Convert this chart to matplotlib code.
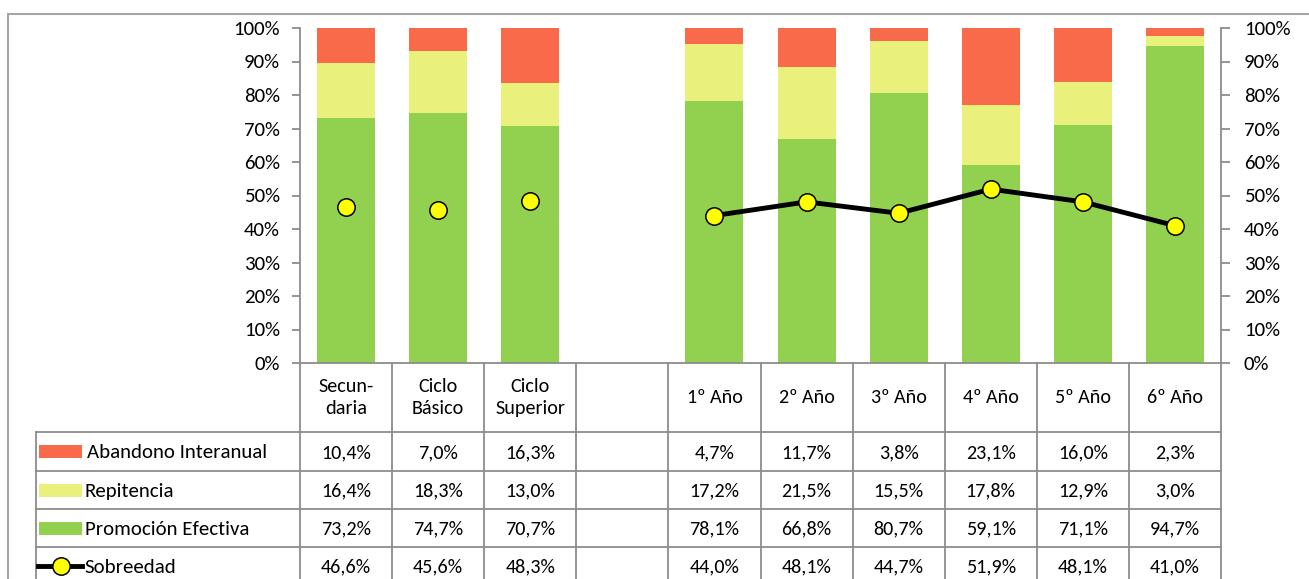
import matplotlib
matplotlib.use("Agg")
import matplotlib.pyplot as plt
from matplotlib import font_manager
from matplotlib.lines import Line2D
from matplotlib.patches import Rectangle
from matplotlib.transforms import blended_transform_factory
from matplotlib.ticker import PercentFormatter

# Calibri-like face if one is available, else Lato
_installed = {f.name for f in font_manager.fontManager.ttflist}
_face = next((f for f in ["Carlito", "Calibri", "Lato"] if f in _installed), "DejaVu Sans")
plt.rcParams['font.family'] = [_face, 'DejaVu Sans']

# ---- data -------------------------------------------------------------
categories = ["Secun-\ndaria", "Ciclo\nBásico", "Ciclo\nSuperior", "",
              "1º Año", "2º Año", "3º Año", "4º Año", "5º Año", "6º Año"]
abandono = [10.4, 7.0, 16.3, None, 4.7, 11.7, 3.8, 23.1, 16.0, 2.3]
repitencia = [16.4, 18.3, 13.0, None, 17.2, 21.5, 15.5, 17.8, 12.9, 3.0]
promocion = [73.2, 74.7, 70.7, None, 78.1, 66.8, 80.7, 59.1, 71.1, 94.7]
sobreedad = [46.6, 45.6, 48.3, None, 44.0, 48.1, 44.7, 51.9, 48.1, 41.0]
series_names = ["Abandono Interanual", "Repitencia", "Promoción Efectiva", "Sobreedad"]

C_RED = "#F96A4A"
C_YEL = "#E9F17C"
C_GRN = "#92D050"
C_GRID = "#8C8C8C"
FS_TICK = 15
FS_NAME = 15
FS_HEAD = 14.5
FS_NUM = 14.5

W, H = 1309, 579
fig = plt.figure(figsize=(W / 100, H / 100), dpi=100)


def fx(px):
    return px / W


def fy(py):
    return 1 - py / H


ax_left, ax_right, ax_top, ax_bot = 300, 1221, 28, 363
ax = fig.add_axes([fx(ax_left), fy(ax_bot), fx(ax_right - ax_left), (ax_bot - ax_top) / H])

n = len(categories)
xs = [i + 0.5 for i in range(n)]
idx = [i for i in range(n) if promocion[i] is not None]
bw = 0.63

p = [promocion[i] for i in idx]
r = [repitencia[i] for i in idx]
a = [abandono[i] for i in idx]
bx = [xs[i] for i in idx]
ax.bar(bx, p, width=bw, color=C_GRN, zorder=2)
ax.bar(bx, r, width=bw, bottom=p, color=C_YEL, zorder=2)
ax.bar(bx, a, width=bw, bottom=[pp + rr for pp, rr in zip(p, r)], color=C_RED, zorder=2)

# Sobreedad: the three level totals as loose markers, the six years joined
marker_kw = dict(marker="o", markersize=12.5, markerfacecolor="#FFFF00",
                 markeredgecolor="black", markeredgewidth=1.1)
grp1 = [i for i in idx if i < 3]
grp2 = [i for i in idx if i > 3]
ax.plot([xs[i] for i in grp1], [sobreedad[i] for i in grp1], linestyle="none",
        zorder=4, **marker_kw)
ax.plot([xs[i] for i in grp2], [sobreedad[i] for i in grp2], color="black",
        linewidth=3.5, zorder=4, **marker_kw)

ax.set_xlim(0, n)
ax.set_ylim(0, 100)
ax.set_yticks(range(0, 101, 10))
ax.yaxis.set_major_formatter(PercentFormatter(decimals=0))
ax.set_xticks([])
for s in ["top", "right"]:
    ax.spines[s].set_visible(False)
for s in ["left", "bottom"]:
    ax.spines[s].set_color(C_GRID)
    ax.spines[s].set_linewidth(1.3)
ax.tick_params(axis="y", direction="out", length=5.5, width=1.3, color=C_GRID,
               labelsize=FS_TICK, pad=9)

ax2 = ax.twinx()
ax2.set_ylim(0, 100)
ax2.set_yticks(range(0, 101, 10))
ax2.yaxis.set_major_formatter(PercentFormatter(decimals=0))
for s in ["top", "left", "bottom"]:
    ax2.spines[s].set_visible(False)
ax2.spines["right"].set_color(C_GRID)
ax2.spines["right"].set_linewidth(1.3)
ax2.tick_params(axis="y", direction="out", length=6.5, width=1.3, color=C_GRID,
                labelsize=FS_TICK, pad=10)

# ---- outer frame --------------------------------------------------------
fig.add_artist(Rectangle((fx(8), fy(700)), fx(1400), fy(14) - fy(700),
                         transform=fig.transFigure, fill=False,
                         edgecolor="#A6A6A6", linewidth=1.5))

# ---- data table ---------------------------------------------------------
tr = blended_transform_factory(ax.transData, fig.transFigure)
tf = fig.transFigure
row_edges = [363, 432, 471, 509, 547, 585]
leg_left = 36


def hline(ypx, x0_px):
    fig.add_artist(Line2D([fx(x0_px), fx(ax_right)], [fy(ypx), fy(ypx)],
                          transform=tf, color=C_GRID, linewidth=1.3))


for ypx in row_edges[1:-1]:
    hline(ypx, leg_left)
# column borders
for i in range(n + 1):
    fig.add_artist(Line2D([i, i], [fy(row_edges[0]), fy(row_edges[-1])],
                          transform=tr, color=C_GRID, linewidth=1.3))
fig.add_artist(Line2D([fx(leg_left), fx(leg_left)], [fy(row_edges[1]), fy(row_edges[-1])],
                      transform=tf, color=C_GRID, linewidth=1.3))

# header row
hy = (row_edges[0] + row_edges[1]) / 2
for x, lab in zip(xs, categories):
    fig.text(x, fy(hy), lab, transform=tr, ha="center", va="center",
             fontsize=FS_HEAD, linespacing=1.35)


def fmt(v):
    return "" if v is None else f"{v:.1f}%".replace(".", ",")


rows = [abandono, repitencia, promocion, sobreedad]
for k, vals in enumerate(rows):
    cy = (row_edges[k + 1] + row_edges[k + 2]) / 2
    for x, v in zip(xs, vals):
        fig.text(x, fy(cy) - 0.002, fmt(v), transform=tr, ha="center", va="center",
                 fontsize=FS_NUM)

# legend keys in the first column
sw_x0, sw_x1 = 39, 82
for k, col in enumerate([C_RED, C_YEL, C_GRN]):
    cy = (row_edges[k + 1] + row_edges[k + 2]) / 2
    fig.add_artist(Rectangle((fx(sw_x0), fy(cy + 6.5)), fx(sw_x1 - sw_x0), 13 / H,
                             transform=tf, facecolor=col, edgecolor="none"))
cy = (row_edges[4] + row_edges[5]) / 2
fig.add_artist(Line2D([fx(38), fx(82)], [fy(cy), fy(cy)], transform=tf,
                      color="black", linewidth=3.5))
fig.add_artist(Line2D([fx(60.5)], [fy(cy)], transform=tf, **marker_kw))
text_x = [87, 85, 85, 84]
for k, name in enumerate(series_names):
    cy = (row_edges[k + 1] + row_edges[k + 2]) / 2
    fig.text(fx(text_x[k]), fy(cy) - 0.002, name, ha="left", va="center",
             fontsize=FS_NAME)

fig.savefig("out.png", dpi=100)
